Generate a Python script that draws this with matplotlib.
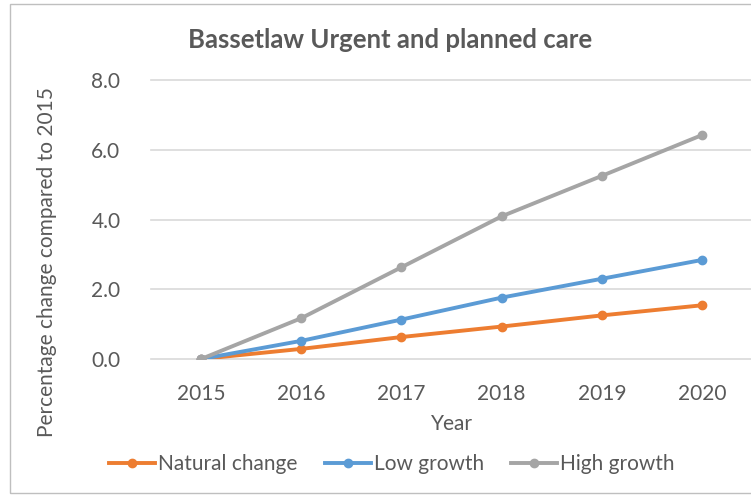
import matplotlib.pyplot as plt
from matplotlib.patches import Rectangle

# data
years = ['2015', '2016', '2017', '2018', '2019', '2020']
natural_change = [0.0, 0.29, 0.63, 0.93, 1.25, 1.54]
low_growth = [0.0, 0.52, 1.13, 1.76, 2.30, 2.84]
high_growth = [0.0, 1.17, 2.63, 4.09, 5.25, 6.42]
y_ticks = [0.0, 2.0, 4.0, 6.0, 8.0]

plt.rcParams['font.family'] = ['Lato', 'DejaVu Sans']
txt = '#595959'

fig = plt.figure(figsize=(7.51, 4.96), dpi=100)
fig.patches.append(Rectangle((10/751, 3/496), 760/751, 489/496, transform=fig.transFigure,
                             fill=False, edgecolor='#BFBFBF', lw=1))

ax = fig.add_axes([151/751, 1-359/496, 601/751, 279/496])
x = range(len(years))
ax.plot(x, natural_change, color='#ED7D31', lw=2.8, marker='o', ms=6, label='Natural change', zorder=3)
ax.plot(x, low_growth, color='#5B9BD5', lw=2.8, marker='o', ms=6, label='Low growth', zorder=3)
ax.plot(x, high_growth, color='#A5A5A5', lw=2.8, marker='o', ms=6, label='High growth', zorder=3)

ax.set_xlim(-0.5, len(years) - 0.5)
ax.set_ylim(0, 8)
ax.set_yticks(y_ticks)
ax.set_yticklabels(['%.1f' % v for v in y_ticks])
ax.set_xticks(list(x))
ax.set_xticklabels(years)
ax.tick_params(length=0, labelsize=15, colors=txt)
ax.tick_params(axis='x', pad=18)
ax.tick_params(axis='y', pad=22)
ax.grid(axis='y', color='#D9D9D9', lw=1.2)
for gl in ax.get_ygridlines():
    gl.set_clip_on(False)
for s in ax.spines.values():
    s.set_visible(False)

ax.set_xlabel('Year', fontsize=15, color=txt, labelpad=7)
fig.text(47/751, 1-262/496, 'Percentage change compared to 2015', rotation=90,
         ha='center', va='center', fontsize=15, color=txt)
fig.text(390/751, 1-40/496, 'Bassetlaw Urgent and planned care', ha='center', va='center',
         fontsize=18.5, fontweight='bold', color=txt)

fig.legend(loc='center', bbox_to_anchor=(392/751, 1-464/496), ncol=3, frameon=False,
           fontsize=15, labelcolor=txt, handlelength=2.2, handletextpad=0.15, columnspacing=1.3)

fig.savefig('out.png', dpi=100)
